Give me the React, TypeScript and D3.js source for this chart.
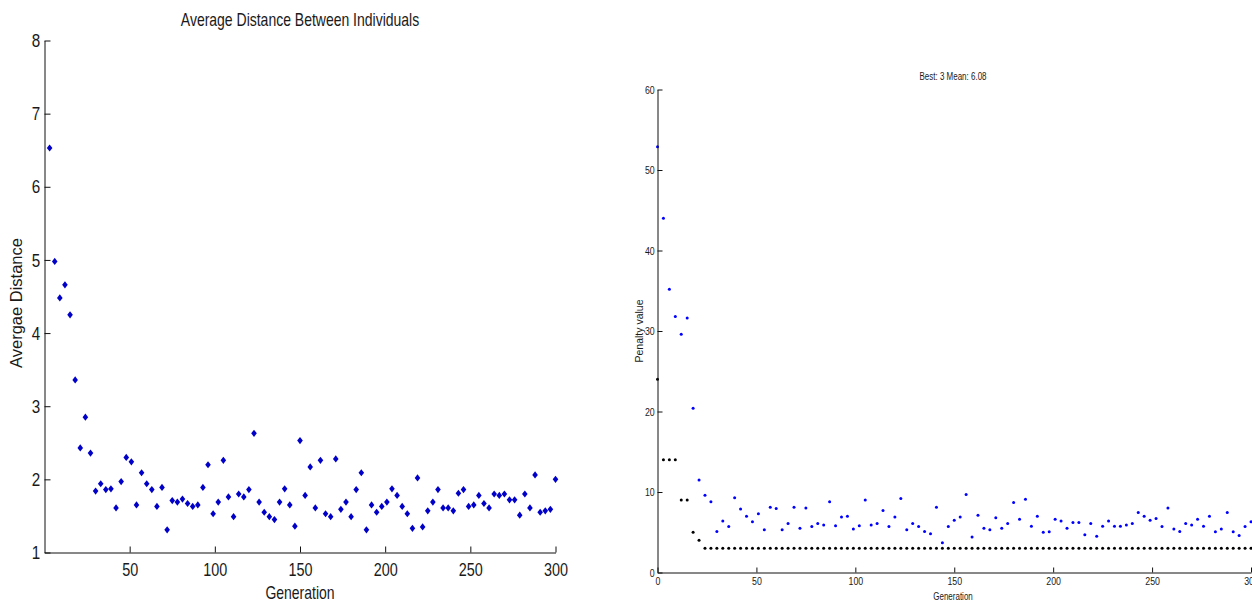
import React, { useEffect, useRef } from "react";
import * as d3 from "d3";

// ---------- Data ----------
// Left panel: average distance between individuals, sampled every 3 generations (3..300)
const leftGenerations: number[] = d3.range(3, 301, 3);
const avgDistance: number[] = [
  6.53, 4.98, 4.48, 4.66, 4.25, 3.36, 2.43, 2.85, 2.36, 1.84,
  1.94, 1.86, 1.87, 1.61, 1.97, 2.30, 2.24, 1.65, 2.09, 1.94,
  1.86, 1.63, 1.89, 1.31, 1.71, 1.69, 1.73, 1.67, 1.63, 1.65,
  1.89, 2.20, 1.53, 1.69, 2.26, 1.76, 1.49, 1.80, 1.76, 1.86,
  2.63, 1.69, 1.55, 1.49, 1.45, 1.69, 1.87, 1.65, 1.36, 2.53,
  1.78, 2.17, 1.61, 2.26, 1.53, 1.49, 2.28, 1.59, 1.69, 1.49,
  1.86, 2.09, 1.31, 1.65, 1.55, 1.63, 1.69, 1.87, 1.78, 1.63,
  1.53, 1.33, 2.02, 1.35, 1.57, 1.69, 1.86, 1.61, 1.61, 1.57,
  1.81, 1.86, 1.63, 1.65, 1.78, 1.67, 1.61, 1.80, 1.78, 1.80,
  1.72, 1.72, 1.51, 1.80, 1.61, 2.06, 1.55, 1.57, 1.59, 2.00,
];

// Right panel: best and mean penalty, sampled every 3 generations (0..300)
const rightGenerations: number[] = d3.range(0, 301, 3);
const meanPenalty: number[] = [
  52.9, 44.0, 35.2, 31.8, 29.6, 31.6, 20.4, 11.5, 9.6, 8.8,
  5.1, 6.4, 5.7, 9.3, 7.9, 7.0, 6.3, 7.3, 5.3, 8.1,
  7.95, 5.3, 6.1, 8.1, 5.5, 8.0, 5.7, 6.1, 5.9, 8.8,
  5.8, 6.9, 7.0, 5.4, 5.8, 9.0, 5.9, 6.1, 7.7, 5.7,
  6.9, 9.2, 5.3, 6.1, 5.7, 5.1, 4.8, 8.1, 3.7, 5.7,
  6.5, 6.9, 9.7, 4.4, 7.1, 5.5, 5.3, 6.8, 5.5, 6.1,
  8.7, 6.6, 9.1, 5.75, 7.0, 5.0, 5.05, 6.6, 6.4, 5.5,
  6.2, 6.2, 4.7, 6.1, 4.5, 5.75, 6.4, 5.75, 5.75, 5.9,
  6.1, 7.45, 7.0, 6.5, 6.7, 5.7, 8.0, 5.4, 5.1, 6.1,
  5.9, 6.6, 5.75, 7.0, 5.05, 5.4, 7.45, 5.05, 4.6, 5.7,
  6.3,
];
const bestPenalty: number[] = [
  24, 14, 14, 14, 9, 9, 5, 4, 3, 3,
  3, 3, 3, 3, 3, 3, 3, 3, 3, 3,
  3, 3, 3, 3, 3, 3, 3, 3, 3, 3,
  3, 3, 3, 3, 3, 3, 3, 3, 3, 3,
  3, 3, 3, 3, 3, 3, 3, 3, 3, 3,
  3, 3, 3, 3, 3, 3, 3, 3, 3, 3,
  3, 3, 3, 3, 3, 3, 3, 3, 3, 3,
  3, 3, 3, 3, 3, 3, 3, 3, 3, 3,
  3, 3, 3, 3, 3, 3, 3, 3, 3, 3,
  3, 3, 3, 3, 3, 3, 3, 3, 3, 3,
  3,
];

const leftXTicks = [50, 100, 150, 200, 250, 300];
const leftYTicks = [1, 2, 3, 4, 5, 6, 7, 8];
const rightXTicks = [0, 50, 100, 150, 200, 250, 300];
const rightYTicks = [0, 10, 20, 30, 40, 50, 60];

const leftTitle = "Average Distance Between Individuals";
const leftXLabel = "Generation";
const leftYLabel = "Avergae Distance";
const rightTitle = "Best: 3 Mean: 6.08";
const rightXLabel = "Generation";
const rightYLabel = "Penalty value";

const FONT = "'Liberation Sans', Arial, sans-serif";
const SQUEEZE = 0.8; // horizontal condensation to mimic a narrow font

const W = 1252;
const H = 602;

function NarrowText(props: { x: number; y: number; size: number; children: React.ReactNode }) {
  const { x, y, size, children } = props;
  return (
    <g transform={`translate(${x},${y}) scale(${SQUEEZE},1)`}>
      <text
        x={0}
        y={0}
        textAnchor="middle"
        dominantBaseline="middle"
        style={{ fontFamily: FONT, fontSize: size }}
        fill="#1a1a1a"
      >
        {children}
      </text>
    </g>
  );
}

export default function App() {
  const ref = useRef<SVGSVGElement | null>(null);

  // scales
  const xL = d3.scaleLinear().domain([0, 300]).range([44.5, 555.5]);
  const yL = d3.scaleLinear().domain([1, 8]).range([552.5, 40.5]);
  const xR = d3.scaleLinear().domain([0, 300]).range([657.5, 1251]);
  const yR = d3.scaleLinear().domain([0, 60]).range([572.5, 89.5]);

  useEffect(() => {
    const svg = d3.select(ref.current);
    const fmt = d3.format("d");

    const style = (g: any, size: number) => {
      g.select(".domain").attr("stroke", "#111").attr("stroke-width", 1);
      g.selectAll(".tick line").attr("stroke", "#111");
      g.selectAll(".tick text")
        .attr("fill", "#1a1a1a")
        .attr("transform", `scale(${SQUEEZE},1)`)
        .style("font-family", FONT)
        .style("font-size", size + "px");
    };

    const gLx = svg.select<SVGGElement>(".axis-lx");
    gLx.call(d3.axisBottom(xL).tickValues(leftXTicks).tickFormat(fmt as any).tickSizeInner(-6).tickSizeOuter(0).tickPadding(11) as any);
    style(gLx, 18);

    const gLy = svg.select<SVGGElement>(".axis-ly");
    gLy.call(d3.axisLeft(yL).tickValues(leftYTicks).tickFormat(fmt as any).tickSizeInner(-6).tickSizeOuter(0).tickPadding(5.5) as any);
    style(gLy, 19);

    const gRx = svg.select<SVGGElement>(".axis-rx");
    gRx.call(d3.axisBottom(xR).tickValues(rightXTicks).tickFormat(fmt as any).tickSizeInner(-5).tickSizeOuter(0).tickPadding(5) as any);
    style(gRx, 11);

    const gRy = svg.select<SVGGElement>(".axis-ry");
    gRy.call(d3.axisLeft(yR).tickValues(rightYTicks).tickFormat(fmt as any).tickSizeInner(-5).tickSizeOuter(0).tickPadding(3.5) as any);
    style(gRy, 11);
  }, []);

  const diamond = (cx: number, cy: number) =>
    `M${cx},${cy - 3.6}L${cx + 2.8},${cy}L${cx},${cy + 3.6}L${cx - 2.8},${cy}Z`;

  return (
    <svg
      ref={ref}
      width={W}
      height={H}
      style={{ position: "absolute", left: 0, top: 0, background: "#fff" }}
    >
      <rect x={0} y={0} width={W} height={H} fill="#fff" />

      {/* ---------- Left panel ---------- */}
      <g className="left-points">
        {avgDistance.map((v, i) => (
          <path key={i} d={diamond(xL(leftGenerations[i]), yL(v))} fill="#0000c8" />
        ))}
      </g>
      <g className="axis-lx" transform={`translate(0,${yL(1)})`} />
      <g className="axis-ly" transform={`translate(${xL(0)},0)`} />
      <NarrowText x={(xL(0) + xL(300)) / 2} y={21} size={17.5}>
        {leftTitle}
      </NarrowText>
      <NarrowText x={(xL(0) + xL(300)) / 2} y={594} size={17.5}>
        {leftXLabel}
      </NarrowText>
      <text
        transform={`translate(18,303) rotate(-90)`}
        textAnchor="middle"
        dominantBaseline="middle"
        style={{ fontFamily: FONT, fontSize: 16.5 }}
        fill="#1a1a1a"
      >
        {leftYLabel}
      </text>

      {/* ---------- Right panel ---------- */}
      <g className="right-best">
        {bestPenalty.map((v, i) => (
          <circle key={i} cx={xR(rightGenerations[i])} cy={yR(v)} r={1.5} fill="#000" />
        ))}
      </g>
      <g className="right-mean">
        {meanPenalty.map((v, i) => (
          <circle key={i} cx={xR(rightGenerations[i])} cy={yR(v)} r={1.5} fill="#0000ff" />
        ))}
      </g>
      <g className="axis-rx" transform={`translate(0,${yR(0)})`} />
      <g className="axis-ry" transform={`translate(${xR(0)},0)`} />
      <NarrowText x={953} y={77} size={10}>
        {rightTitle}
      </NarrowText>
      <NarrowText x={953} y={597} size={10}>
        {rightXLabel}
      </NarrowText>
      <text
        transform={`translate(640,${(yR(0) + yR(60)) / 2}) rotate(-90)`}
        textAnchor="middle"
        dominantBaseline="middle"
        style={{ fontFamily: FONT, fontSize: 10.5 }}
        fill="#1a1a1a"
      >
        {rightYLabel}
      </text>
    </svg>
  );
}
